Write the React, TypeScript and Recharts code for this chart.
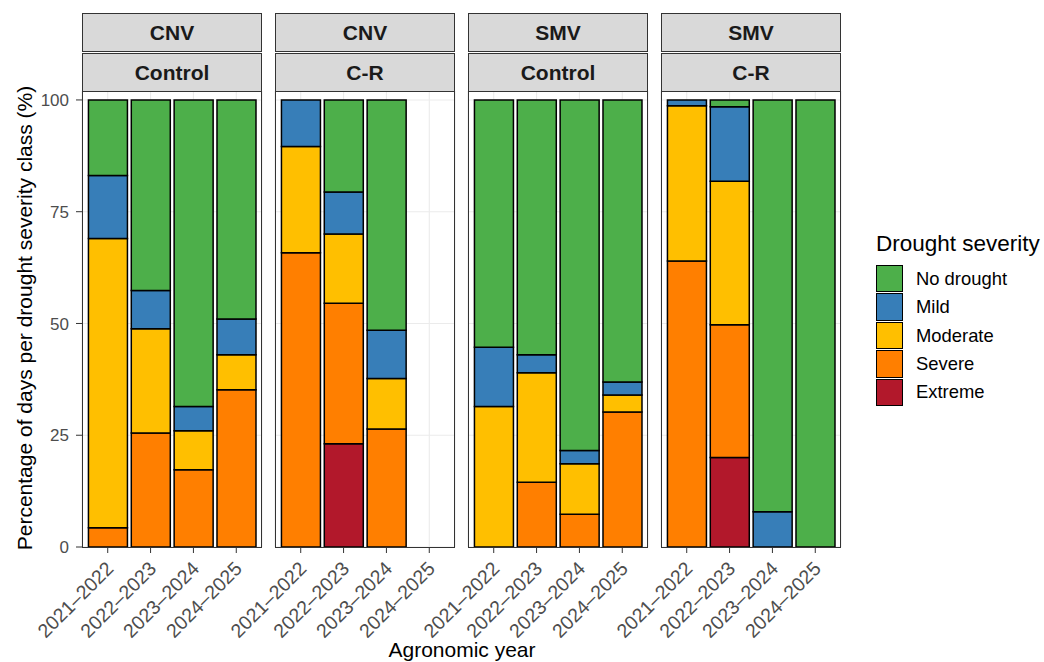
import { BarChart, Bar, XAxis, YAxis, CartesianGrid } from 'recharts';

const years = ['2021–2022', '2022–2023', '2023–2024', '2024–2025'];
const sites = ['CNV', 'CNV', 'SMV', 'SMV'];
const treatments = ['Control', 'C-R', 'Control', 'C-R'];

const severityNames = ['No drought', 'Mild', 'Moderate', 'Severe', 'Extreme'];
const severityColors = ['#4DAF4A', '#377EB8', '#FFBF00', '#FF7F00', '#B2182B'];

// % of days, 4 panels x 4 years (CNV Control, CNV C-R, SMV Control, SMV C-R)
const noDrought = [16.9, 42.6, 68.6, 49.0, 0, 20.6, 51.5, 0, 55.3, 57.0, 78.4, 63.1, 0, 1.5, 92.1, 100];
const mild = [14.1, 8.6, 5.4, 8.0, 10.4, 9.4, 10.8, 0, 13.3, 4.0, 3.0, 2.9, 1.3, 16.7, 7.9, 0];
const moderate = [64.7, 23.3, 8.7, 7.8, 23.8, 15.5, 11.3, 0, 31.4, 24.5, 11.3, 3.8, 34.7, 32.1, 0, 0];
const severe = [4.3, 25.5, 17.3, 35.2, 65.8, 31.4, 26.4, 0, 0, 14.5, 7.3, 30.2, 64.0, 29.7, 0, 0];
const extreme = [0, 0, 0, 0, 0, 23.1, 0, 0, 0, 0, 0, 0, 0, 20.0, 0, 0];

const yTicks = [0, 25, 50, 75, 100];

const FONT = '"Liberation Sans", Arial, Helvetica, sans-serif';
const PANEL_X = [82, 275, 468, 661];
const PANEL_W = 180;
const PANEL_TOP = 91;
const PANEL_H = 456;
const AXIS_H = 100;
const Y_AXIS_W = 82;

const panelData = (p: number) =>
  years.map((year, i) => ({
    year,
    'No drought': noDrought[p * 4 + i],
    Mild: mild[p * 4 + i],
    Moderate: moderate[p * 4 + i],
    Severe: severe[p * 4 + i],
    Extreme: extreme[p * 4 + i],
  }));

const XTick = ({ x, y, payload }: any) => (
  <g transform={`translate(${x - 3},${y + 5})`}>
    <text
      textAnchor="end"
      transform="rotate(-45)"
      dy="0.72em"
      fontSize={19.5}
      fill="#4D4D4D"
      fontFamily={FONT}
    >
      {payload.value}
    </text>
  </g>
);

// bottom of stack first
const stackOrder = [4, 3, 2, 1, 0];

function Panel({ p }: { p: number }) {
  const first = p === 0;
  return (
    <div
      style={{
        position: 'absolute',
        left: first ? 0 : PANEL_X[p],
        top: PANEL_TOP,
      }}
    >
      <BarChart
        width={first ? PANEL_W + Y_AXIS_W : PANEL_W}
        height={PANEL_H + AXIS_H}
        data={panelData(p)}
        margin={{ top: 0, right: 0, bottom: 0, left: 0 }}
        barCategoryGap="5%"
      >
        <CartesianGrid stroke="#EBEBEB" strokeWidth={1.1} />
        <XAxis
          dataKey="year"
          height={AXIS_H}
          padding={{ left: 4.3, right: 4.3 }}
          axisLine={false}
          tickLine={{ stroke: '#333333' }}
          tickSize={6}
          interval={0}
          tick={<XTick />}
        />
        <YAxis
          hide={!first}
          width={Y_AXIS_W}
          domain={[0, 102]}
          ticks={yTicks}
          interval={0}
          axisLine={false}
          tickLine={{ stroke: '#333333' }}
          tickSize={6}
          tickMargin={7}
          tick={{ fill: '#4D4D4D', fontSize: 17, fontFamily: FONT }}
        />
        {stackOrder.map((s) => (
          <Bar
            key={severityNames[s]}
            dataKey={severityNames[s]}
            stackId="a"
            fill={severityColors[s]}
            stroke="#000000"
            strokeWidth={1.5}
            isAnimationActive={false}
          />
        ))}
      </BarChart>
    </div>
  );
}

export default function App() {
  return (
    <div
      style={{
        position: 'absolute',
        left: 0,
        top: 0,
        width: 1044,
        height: 662,
        background: '#fff',
        fontFamily: FONT,
      }}
    >
      <style>{'.recharts-surface { overflow: visible; }'}</style>
      {[0, 1, 2, 3].map((p) => (
        <Panel key={p} p={p} />
      ))}

      {[0, 1, 2, 3].map((p) => (
        <div key={'b' + p}>
          <div
            style={{
              position: 'absolute',
              left: PANEL_X[p],
              top: PANEL_TOP,
              width: PANEL_W,
              height: PANEL_H + 1,
              border: '1px solid #333333',
              boxSizing: 'border-box',
              pointerEvents: 'none',
            }}
          />
          {[sites[p], treatments[p]].map((label, k) => (
            <div
              key={label + k}
              style={{
                position: 'absolute',
                left: PANEL_X[p],
                top: k === 0 ? 13 : 53,
                width: PANEL_W,
                height: 39,
                background: '#D9D9D9',
                border: '1px solid #333333',
                boxSizing: 'border-box',
                display: 'flex',
                alignItems: 'center',
                justifyContent: 'center',
                fontWeight: 'bold',
                fontSize: 21,
                color: '#1A1A1A',
              }}
            >
              {label}
            </div>
          ))}
        </div>
      ))}

      <div
        style={{
          position: 'absolute',
          left: 24,
          top: 318,
          transform: 'translate(-50%, -50%) rotate(-90deg)',
          whiteSpace: 'nowrap',
          fontSize: 21,
          lineHeight: 1,
          color: '#000',
        }}
      >
        Percentage of days per drought severity class (%)
      </div>

      <div
        style={{
          position: 'absolute',
          left: 462,
          top: 639,
          transform: 'translateX(-50%)',
          whiteSpace: 'nowrap',
          fontSize: 21,
          lineHeight: 1,
          color: '#000',
        }}
      >
        Agronomic year
      </div>

      <div
        style={{
          position: 'absolute',
          left: 876,
          top: 233,
          fontSize: 22.5,
          lineHeight: 1,
          whiteSpace: 'nowrap',
          color: '#000',
        }}
      >
        Drought severity
      </div>
      {severityNames.map((name, i) => (
        <div key={name}>
          <div
            style={{
              position: 'absolute',
              left: 876,
              top: 265 + i * 28.4,
              width: 27,
              height: 27.4,
              background: severityColors[i],
              border: '1.3px solid #000',
              boxSizing: 'border-box',
            }}
          />
          <div
            style={{
              position: 'absolute',
              left: 916,
              top: 265 + i * 28.4 + 13.7,
              transform: 'translateY(-50%)',
              fontSize: 18.4,
              lineHeight: 1,
              whiteSpace: 'nowrap',
              color: '#000',
            }}
          >
            {name}
          </div>
        </div>
      ))}
    </div>
  );
}
